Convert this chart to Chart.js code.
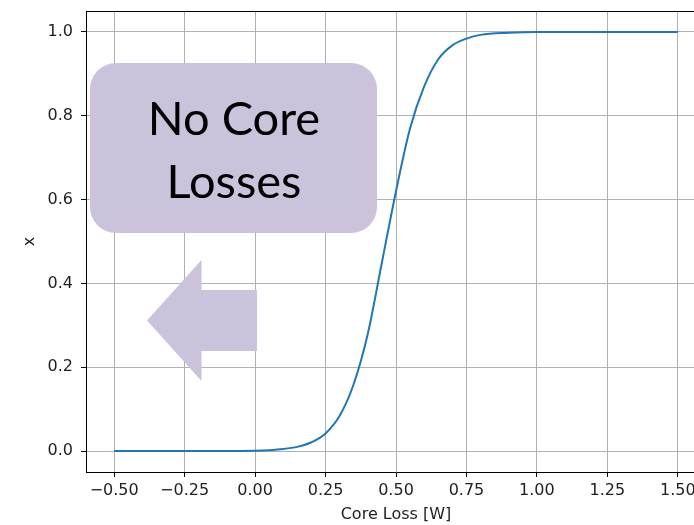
<!DOCTYPE html>
<html>
<head>
<meta charset="utf-8">
<script src="https://cdn.jsdelivr.net/npm/chart.js@4"></script>
<style>
  html, body { margin: 0; padding: 0; overflow: hidden; background: #fff; width: 694px; height: 525px; }
  #wrap { position: absolute; left: 0; top: 0; width: 720px; height: 525px; }
</style>
</head>
<body>
<div id="wrap"><canvas id="c" width="720" height="525"></canvas></div>
<script>
// Core loss sweep [W] and the resulting x value
const coreLoss = [-0.50, -0.25, 0.00, 0.10, 0.15, 0.20, 0.25, 0.30, 0.35, 0.40, 0.45, 0.50, 0.55, 0.60, 0.65, 0.70, 0.75, 0.80, 0.90, 1.00, 1.50];
const xValue   = [0.000, 0.000, 0.001, 0.005, 0.010, 0.021, 0.042, 0.084, 0.160, 0.280, 0.450, 0.620, 0.770, 0.870, 0.935, 0.968, 0.984, 0.993, 0.998, 1.000, 1.000];

const xTicks = [-0.50, -0.25, 0.00, 0.25, 0.50, 0.75, 1.00, 1.25, 1.50];
const yTicks = [0.0, 0.2, 0.4, 0.6, 0.8, 1.0];

const xTitle = 'Core Loss [W]';
const yTitle = 'x';
const calloutLines = ['No Core', 'Losses'];

const TICK_FONT = { family: 'DejaVu Sans', size: 16 };
const fmt = (v, d) => Number(v).toFixed(d).replace('-', '\u2212');

// frame on all four sides plus the axis titles
const framePlugin = {
  id: 'frame',
  afterDraw(chart) {
    const { ctx, chartArea: a } = chart;
    ctx.save();
    ctx.strokeStyle = '#000';
    ctx.lineWidth = 1;
    ctx.beginPath();
    ctx.moveTo(a.left, a.top + 0.5);
    ctx.lineTo(a.right, a.top + 0.5);
    ctx.moveTo(a.right - 0.5, a.top);
    ctx.lineTo(a.right - 0.5, a.bottom);
    ctx.stroke();

    ctx.fillStyle = '#222';
    ctx.font = '16px "DejaVu Sans"';
    ctx.textAlign = 'center';
    ctx.textBaseline = 'middle';
    ctx.fillText(xTitle, (a.left + a.right) / 2, 515);
    ctx.translate(30, (a.top + a.bottom) / 2);
    ctx.rotate(-Math.PI / 2);
    ctx.fillText(yTitle, 0, 0);
    ctx.restore();
  }
};

// purple callout box with a left-pointing arrow
const calloutPlugin = {
  id: 'callout',
  afterDatasetsDraw(chart) {
    const { ctx } = chart;
    const fill = '#cbc2dc';
    ctx.save();
    ctx.fillStyle = fill;
    ctx.beginPath();
    ctx.roundRect(90, 63, 287, 170, 26);
    ctx.fill();

    ctx.beginPath();
    ctx.moveTo(147, 320.5);
    ctx.lineTo(201.5, 260);
    ctx.lineTo(201.5, 290);
    ctx.lineTo(257, 290);
    ctx.lineTo(257, 351);
    ctx.lineTo(201.5, 351);
    ctx.lineTo(201.5, 381);
    ctx.closePath();
    ctx.fill();

    ctx.fillStyle = '#000';
    ctx.font = '47px Lato';
    ctx.textAlign = 'center';
    ctx.textBaseline = 'alphabetic';
    ctx.fillText(calloutLines[0], 234, 135);
    ctx.fillText(calloutLines[1], 234, 198);
    ctx.restore();
  }
};

new Chart(document.getElementById('c'), {
  type: 'line',
  data: {
    datasets: [{
      data: coreLoss.map((c, i) => ({ x: c, y: xValue[i] })),
      borderColor: '#1f77b4',
      borderWidth: 2,
      pointRadius: 0,
      fill: false,
      cubicInterpolationMode: 'monotone'
    }]
  },
  options: {
    responsive: false,
    animation: false,
    layout: { padding: { left: 0, top: 11, right: 14, bottom: 0 } },
    plugins: { legend: { display: false }, tooltip: { enabled: false } },
    scales: {
      x: {
        type: 'linear',
        min: -0.6,
        max: 1.6,
        afterBuildTicks: s => { s.ticks = xTicks.map(v => ({ value: v })); },
        afterFit: s => { s.height = 53; s.paddingLeft = 0; s.paddingRight = 0; },
        grid: { color: '#b0b0b0', lineWidth: 1, tickColor: '#000', tickLength: 5 },
        border: { color: '#000', width: 1 },
        ticks: { font: TICK_FONT, color: '#222', padding: 4, maxRotation: 0, autoSkip: false, callback: v => fmt(v, 2) }
      },
      y: {
        type: 'linear',
        min: -0.05,
        max: 1.05,
        afterBuildTicks: s => { s.ticks = yTicks.map(v => ({ value: v })); },
        afterFit: s => { s.width = 86; s.paddingTop = 0; s.paddingBottom = 0; },
        grid: { color: '#b0b0b0', lineWidth: 1, tickColor: '#000', tickLength: 5 },
        border: { color: '#000', width: 1 },
        ticks: { font: TICK_FONT, color: '#222', padding: 8, autoSkip: false, callback: v => fmt(v, 1) }
      }
    }
  },
  plugins: [framePlugin, calloutPlugin]
});
</script>
</body>
</html>
